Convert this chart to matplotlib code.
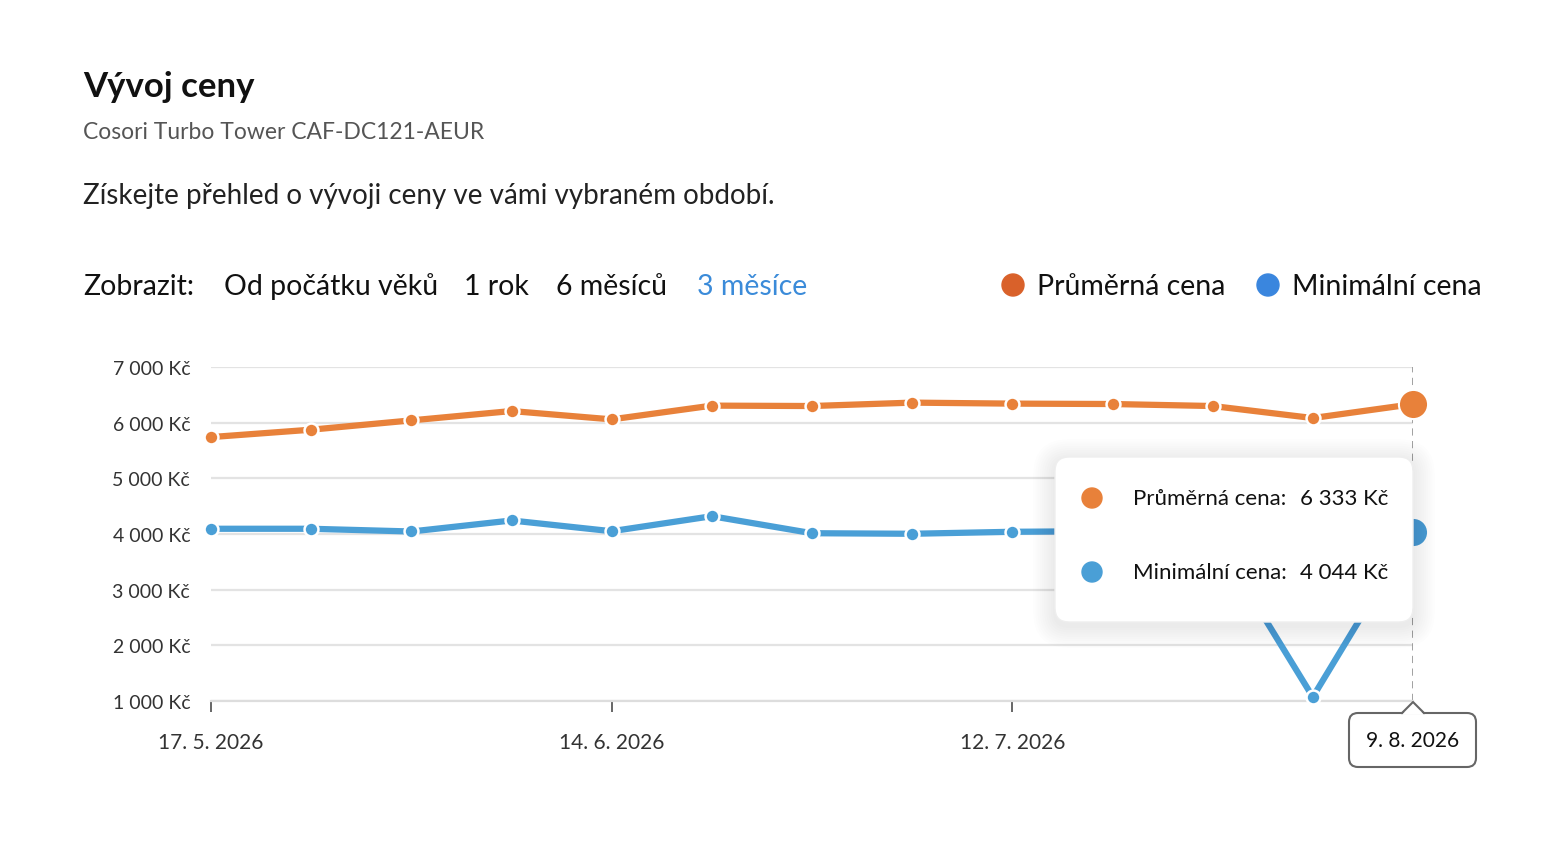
import pandas as pd
import matplotlib.pyplot as plt
import matplotlib.dates as mdates
from matplotlib.patches import FancyBboxPatch, Circle, Polygon
from matplotlib.lines import Line2D
from matplotlib.ticker import FuncFormatter

plt.rcParams['font.family'] = ['Lato', 'DejaVu Sans']

W, H = 1568, 854

dates = pd.date_range("2026-05-17", periods=13, freq="7D")
avg_price = [5741, 5874, 6041, 6209, 6059, 6306, 6299, 6360, 6342, 6335, 6299, 6083, 6333]
min_price = [4094, 4094, 4045, 4243, 4050, 4320, 4014, 4004, 4040, 4050, 4010, 1072, 4044]
tick_dates = pd.to_datetime(["2026-05-17", "2026-06-14", "2026-07-12"])
range_options = ["Od počátku věků", "1 rok", "6 měsíců", "3 měsíce"]

ORANGE = "#E8813A"
BLUE = "#4A9FD6"
LEG_ORANGE = "#D9612A"
LEG_BLUE = "#3A86DE"


def fx(x):
    return x / W


def fy(y):
    return 1 - y / H


fig = plt.figure(figsize=(W / 100, H / 100), dpi=100)
fig.patch.set_facecolor("white")

# header texts
fig.text(fx(83), fy(97), "Vývoj ceny", fontsize=25, fontweight="bold", color="#111111", va="baseline")
fig.text(fx(83), fy(139), "Cosori Turbo Tower CAF-DC121-AEUR", fontsize=16.5, color="#555555", va="baseline")
fig.text(fx(83), fy(204), "Získejte přehled o vývoji ceny ve vámi vybraném období.",
         fontsize=20, color="#222222", va="baseline")

fig.text(fx(83), fy(295), "Zobrazit:", fontsize=20.5, color="#111111", va="baseline")
opt_x = [224, 464, 556, 697]
for label, x in zip(range_options, opt_x):
    col = "#3B8BD9" if label == "3 měsíce" else "#111111"
    fig.text(fx(x), fy(295), label, fontsize=20.5, color=col, va="baseline")

# legend
fig.patches.append(Circle((1013, H - 286), 11, transform=None, color=LEG_ORANGE))
fig.text(fx(1037), fy(295), "Průměrná cena", fontsize=20.5, color="#111111", va="baseline")
fig.patches.append(Circle((1268, H - 286), 11, transform=None, color=LEG_BLUE))
fig.text(fx(1292), fy(295), "Minimální cena", fontsize=20.5, color="#111111", va="baseline")

# chart
ax_left, ax_right, ax_top, ax_bottom = 211, 1413, 368, 702
ax = fig.add_axes([fx(ax_left), fy(ax_bottom), (ax_right - ax_left) / W, (ax_bottom - ax_top) / H])
ax.set_facecolor("none")

ax.plot(dates, avg_price, color=ORANGE, lw=4.5, marker="o", ms=10, mfc=ORANGE,
        mec="white", mew=1.8, clip_on=False, zorder=3, solid_capstyle="round")
ax.plot(dates, min_price, color=BLUE, lw=4.5, marker="o", ms=10, mfc=BLUE,
        mec="white", mew=1.8, clip_on=False, zorder=3, solid_capstyle="round")
ax.plot(dates[-1], avg_price[-1], "o", ms=21, color=ORANGE, mec="white", mew=1.5, clip_on=False, zorder=4)
ax.plot(dates[-1], min_price[-1], "o", ms=21, color=BLUE, mec="white", mew=1.5, clip_on=False, zorder=4)

ax.set_xlim(dates[0], dates[-1])
ax.set_ylim(1000, 7000)
ax.set_yticks(range(1000, 8000, 1000))
ax.yaxis.set_major_formatter(FuncFormatter(lambda v, p: f"{int(v):,} Kč".replace(",", " ")))
ax.grid(axis="y", color="#E3E3E3", lw=1.6)
ax.set_axisbelow(True)
for s in ["top", "right", "left"]:
    ax.spines[s].set_visible(False)
ax.spines["bottom"].set_color("#DDDDDD")
ax.spines["bottom"].set_linewidth(1.6)

ax.set_xticks(tick_dates)
ax.xaxis.set_major_formatter(FuncFormatter(
    lambda v, p: (lambda d: f"{d.day}. {d.month}. {d.year}")(mdates.num2date(v))))
ax.tick_params(axis="x", length=8, width=1.4, color="#666666", pad=14, labelsize=15, labelcolor="#333333")
ax.tick_params(axis="y", length=0, pad=15, labelsize=14, labelcolor="#333333")

# hover line
ax.axvline(dates[-1], color="#9A9A9A", lw=1.3, ls=(0, (4, 3)), zorder=2)

# tooltip shadow + box
tx0, ty0, tx1, ty1 = 1055, 458, 1413, 623
for i in range(10):
    g = 2 + i * 2.2
    fig.patches.append(FancyBboxPatch((tx0 - g, H - ty1 - g - 4), tx1 - tx0 + 2 * g, ty1 - ty0 + 2 * g,
                                      boxstyle=f"round,pad=0,rounding_size={14 + g}", transform=None,
                                      facecolor="black", edgecolor="none", alpha=0.008))
fig.patches.append(FancyBboxPatch((tx0, H - ty1), tx1 - tx0, ty1 - ty0,
                                  boxstyle="round,pad=0,rounding_size=14", transform=None,
                                  facecolor="white", edgecolor="#EEEEEE", lw=1))
fig.patches.append(Circle((1092, H - 499), 10, transform=None, color=ORANGE))
fig.patches.append(Circle((1092, H - 573), 10, transform=None, color=BLUE))
fig.text(fx(1133), fy(499), "Průměrná cena:", fontsize=16, color="#111111", va="center")
fig.text(fx(1388), fy(499), f"{avg_price[-1]:,} Kč".replace(",", " "), fontsize=16,
         color="#111111", va="center", ha="right")
fig.text(fx(1133), fy(573), "Minimální cena:", fontsize=16, color="#111111", va="center")
fig.text(fx(1388), fy(573), f"{min_price[-1]:,} Kč".replace(",", " "), fontsize=16,
         color="#111111", va="center", ha="right")

# date label box with pointer
bx0, by0, bx1, by1 = 1349, 714, 1476, 768
fig.patches.append(FancyBboxPatch((bx0, H - by1), bx1 - bx0, by1 - by0,
                                  boxstyle="round,pad=0,rounding_size=9", transform=None,
                                  facecolor="white", edgecolor="#666666", lw=1.5))
fig.patches.append(Polygon([(1402, H - 715.5), (1413, H - 704), (1424, H - 715.5)], closed=True,
                           transform=None, facecolor="white", edgecolor="none"))
fig.lines.append(Line2D([1402, 1413, 1424], [H - 714, H - 703, H - 714], transform=None,
                        color="#666666", lw=1.5))
fig.text(fx(1413), fy(741), dates[-1].strftime("%-d. %-m. %Y").replace(".", ". ").replace(".  ", ". ").strip(),
         fontsize=15, color="#111111", ha="center", va="center")

fig.savefig("out.png", dpi=100)
